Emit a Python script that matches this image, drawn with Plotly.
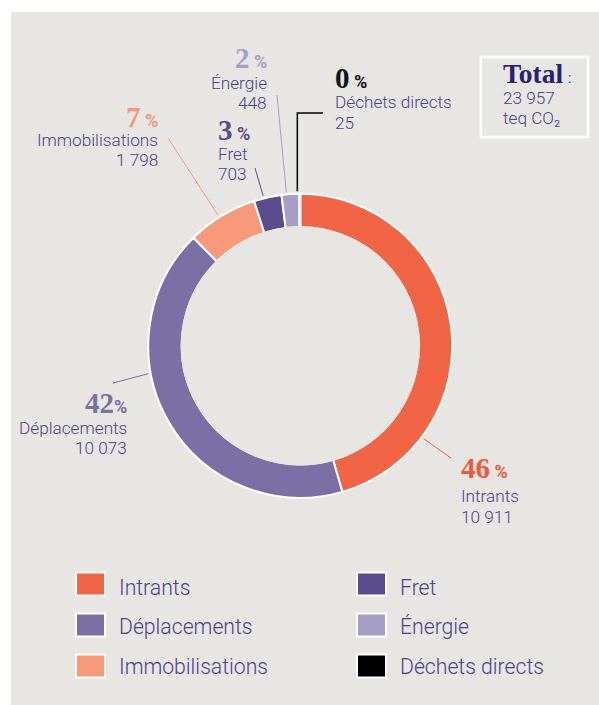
import math
import plotly.graph_objects as go

# ---------------- data ----------------
categories = ["Intrants", "Déplacements", "Immobilisations", "Fret", "Énergie", "Déchets directs"]
values = [10911, 10073, 1798, 703, 448, 25]
percent_labels = [46, 42, 7, 3, 2, 0]
total_label = "23 957"
total_unit = "teq CO₂"

# ---------------- style ----------------
slice_colors = ["#F26544", "#7A70A6", "#F89A7A", "#584C8C", "#A59FC5", "#000000"]
pct_colors = ["#F0583C", "#7A70A6", "#F7967A", "#584C8C", "#A59FC5", "#111111"]
BG = "#E8E6E2"
TXT = "#4A4290"
W, H = 599, 705

def px(x):
    return x / W

def py(y):
    return 1 - y / H

# pie geometry (pixels)
CX, CY, R = 300.3, 345.8, 152.0
INNER = 118.5

# label layout: (x, anchor, y_pct, y_name, y_value, pct separator)
label_layout = [
    (459, "left", 468, 496, 517, " "),
    (129, "right", 403, 428, 448, ""),
    (160, "right", 117, 140, 160, " "),
    (216, "left", 130, 154, 174, " "),
    (269, "right", 58, 83, 103, " "),
    (333, "left", 78, 102, 123, " "),
]
# leader lines: angle on ring (deg, clockwise from top), outer end point (px)
leader_layout = [
    (127.0, (451, 458)),
    (259.6, (113, 383)),
    (327.8, (168, 138)),
    (346.1, (255, 168)),
    (354.8, (277, 95)),
    (358.9, None),
]

LABEL_SIZE = 17.2
LEGEND_SIZE = 21.2
PCT_SIZE = 29
PCT_SIGN_SIZE = 18

fig = go.Figure()
fig.add_trace(go.Pie(
    labels=categories,
    values=values,
    sort=False,
    direction="clockwise",
    rotation=0,
    hole=INNER / R,
    marker=dict(colors=slice_colors, line=dict(color="white", width=2)),
    textinfo="none",
    hoverinfo="label+value",
    showlegend=False,
    domain=dict(x=[px(CX - R), px(CX + R)], y=[py(CY + R), py(CY - R)]),
))

shapes = []
annotations = []

# panel background
shapes.append(dict(type="rect", xref="paper", yref="paper", x0=px(11), x1=1, y0=0, y1=py(12),
                   fillcolor=BG, line=dict(width=0), layer="below"))
# cover inner white edge of ring
shapes.append(dict(type="circle", xref="paper", yref="paper",
                   x0=px(CX - INNER - 1.2), x1=px(CX + INNER + 1.2),
                   y0=py(CY + INNER + 1.2), y1=py(CY - INNER - 1.2),
                   fillcolor=BG, line=dict(width=0), layer="above"))

# leader lines
for i, (ang, end) in enumerate(leader_layout):
    a = math.radians(ang)
    rx = CX + (R + 2.5) * math.sin(a)
    ry = CY - (R + 2.5) * math.cos(a)
    if end is None:
        path = f"M {px(rx)},{py(ry)} L {px(rx)},{py(113)} L {px(323)},{py(113)}"
        shapes.append(dict(type="path", xref="paper", yref="paper", path=path,
                           line=dict(color=slice_colors[i], width=1.5), layer="above"))
    else:
        shapes.append(dict(type="line", xref="paper", yref="paper",
                           x0=px(rx), y0=py(ry), x1=px(end[0]), y1=py(end[1]),
                           line=dict(color=slice_colors[i], width=1), layer="above"))

def fmt(v):
    return f"{v:,}".replace(",", " ")

# labels
for i, cat in enumerate(categories):
    x, anc, yp, yn, yv, sep = label_layout[i]
    pct_txt = (f"{percent_labels[i]}<span style='font-family:Roboto;font-size:{PCT_SIGN_SIZE}px'>{sep}%</span>")
    annotations.append(dict(xref="paper", yref="paper", x=px(x), y=py(yp), xanchor=anc, yanchor="middle",
                            text=pct_txt, showarrow=False,
                            font=dict(family="Liberation Serif", size=PCT_SIZE, color=pct_colors[i], weight="bold")))
    annotations.append(dict(xref="paper", yref="paper", x=px(x), y=py(yn), xanchor=anc, yanchor="middle",
                            text=cat, showarrow=False,
                            font=dict(family="Roboto", size=LABEL_SIZE, color=TXT, weight=300)))
    annotations.append(dict(xref="paper", yref="paper", x=px(x), y=py(yv), xanchor=anc, yanchor="middle",
                            text=fmt(values[i]), showarrow=False,
                            font=dict(family="Roboto", size=LABEL_SIZE, color=TXT, weight=300)))

# total box
shapes.append(dict(type="rect", xref="paper", yref="paper", x0=px(481), x1=px(588), y0=py(137), y1=py(57),
                   line=dict(color="white", width=2.5), fillcolor="rgba(0,0,0,0)", layer="above"))
annotations.append(dict(xref="paper", yref="paper", x=px(501), y=py(73), xanchor="left", yanchor="middle",
                        text="Total", showarrow=False,
                        font=dict(family="Liberation Serif", size=27.5, color="#2A2270", weight="bold")))
annotations.append(dict(xref="paper", yref="paper", x=px(566), y=py(78), xanchor="left", yanchor="middle",
                        text=":", showarrow=False,
                        font=dict(family="Roboto", size=14, color=TXT)))
annotations.append(dict(xref="paper", yref="paper", x=px(501), y=py(98), xanchor="left", yanchor="middle",
                        text=total_label, showarrow=False,
                        font=dict(family="Roboto", size=LABEL_SIZE, color=TXT, weight=300)))
annotations.append(dict(xref="paper", yref="paper", x=px(501), y=py(118), xanchor="left", yanchor="middle",
                        text=total_unit, showarrow=False,
                        font=dict(family="Roboto", size=LABEL_SIZE, color=TXT, weight=300)))

# custom legend
leg_x = [75, 356]
leg_text_x = [117, 398]
leg_y = [584, 625, 666]
leg_text_y = [587, 626, 666]
for i, cat in enumerate(categories):
    col, row = i // 3, i % 3
    x0 = leg_x[col]
    yc = leg_y[row]
    shapes.append(dict(type="rect", xref="paper", yref="paper",
                       x0=px(x0 + 1), x1=px(x0 + 30), y0=py(yc + 11.5), y1=py(yc - 11.5),
                       fillcolor=slice_colors[i], line=dict(color="white", width=2), layer="above"))
    annotations.append(dict(xref="paper", yref="paper", x=px(leg_text_x[col]), y=py(leg_text_y[row]),
                            xanchor="left", yanchor="middle", text=cat, showarrow=False,
                            font=dict(family="Roboto", size=LEGEND_SIZE, color=TXT, weight=300)))

fig.update_layout(
    width=W, height=H,
    margin=dict(l=0, r=0, t=0, b=0),
    paper_bgcolor="white",
    plot_bgcolor="white",
    shapes=shapes,
    annotations=annotations,
    showlegend=False,
)

fig.write_html("out.html",
               config={"displayModeBar": False},
               post_script="document.body.style.margin='0';document.body.style.overflow='hidden';")
